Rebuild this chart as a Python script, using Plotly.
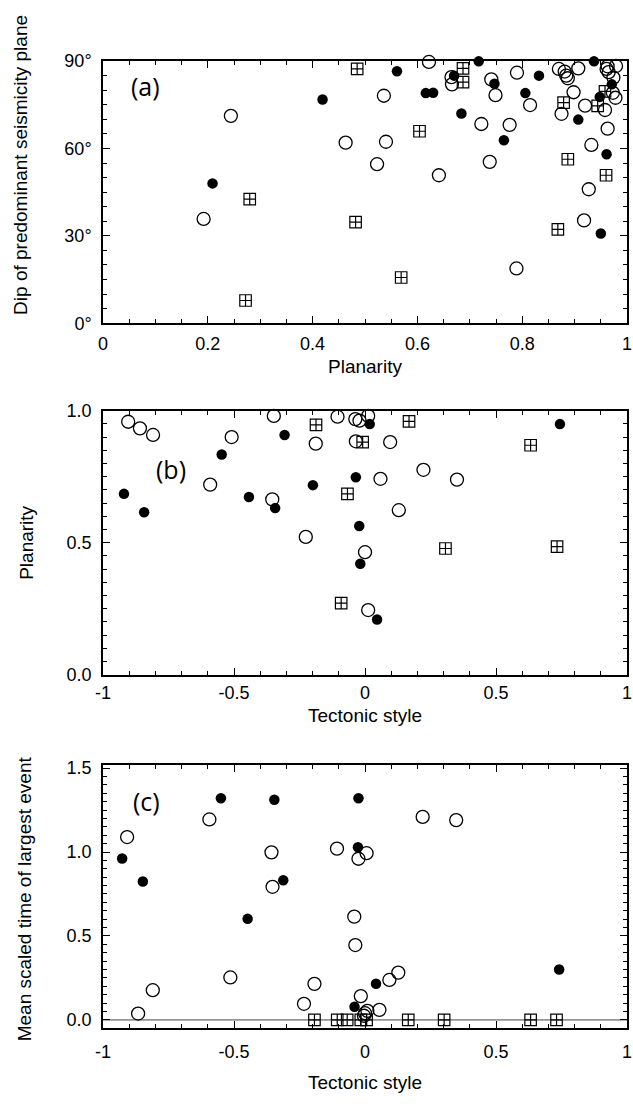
import plotly.graph_objects as go

W, H = 633, 1108

# ---------------- Panel (a): Planarity vs dip ----------------
a_open_planarity = [0.244, 0.463, 0.192, 0.622, 0.665, 0.666, 0.741, 0.749, 0.790, 0.815,
                    0.536, 0.722, 0.776, 0.540, 0.523, 0.738, 0.641, 0.870, 0.881, 0.884,
                    0.887, 0.907, 0.963, 0.961, 0.979, 0.965, 0.974, 0.973, 0.978, 0.958,
                    0.898, 0.920, 0.875, 0.963, 0.932, 0.927, 0.918, 0.789]
a_open_dip = [71.2, 62.0, 35.8, 89.7, 84.5, 82.0, 83.7, 78.3, 86.0, 74.9,
              78.1, 68.4, 68.1, 62.3, 54.6, 55.4, 50.8, 87.3, 86.4, 85.0,
              84.1, 87.5, 88.2, 87.3, 88.3, 86.2, 84.3, 79.1, 77.4, 73.2,
              79.3, 74.7, 71.9, 66.8, 61.2, 46.0, 35.3, 18.8]

a_fill_planarity = [0.419, 0.209, 0.561, 0.670, 0.717, 0.747, 0.832, 0.806, 0.616, 0.630,
                    0.684, 0.765, 0.937, 0.971, 0.948, 0.907, 0.961, 0.950]
a_fill_dip = [76.8, 48.0, 86.5, 85.0, 89.9, 82.2, 85.0, 79.0, 79.0, 79.1,
              72.0, 62.8, 89.9, 82.0, 77.7, 69.9, 58.0, 30.8]

a_sq_planarity = [0.485, 0.280, 0.482, 0.272, 0.687, 0.687, 0.604, 0.958, 0.944, 0.879,
                  0.887, 0.960, 0.868, 0.569]
a_sq_dip = [87.3, 42.6, 34.7, 7.8, 87.5, 82.8, 65.9, 79.6, 74.6, 75.7,
            56.3, 50.8, 32.2, 15.7]

a_xticks = [0, 0.2, 0.4, 0.6, 0.8, 1.0]
a_xticktext = ["0", "0.2", "0.4", "0.6", "0.8", "1"]
a_yticks = [0, 30, 60, 90]
a_yticktext = ["0°", "30°", "60°", "90°"]

# ---------------- Panel (b): Tectonic style vs planarity ----------------
b_open_style = [-0.904, -0.859, -0.809, -0.348, -0.509, -0.188, -0.105, -0.037, -0.021, 0.012,
                -0.035, -0.591, -0.354, -0.226, 0.096, 0.223, 0.059, 0.351, 0.129, 0.000,
                0.012]
b_open_planarity = [0.958, 0.933, 0.908, 0.980, 0.900, 0.875, 0.977, 0.968, 0.962, 0.980,
                    0.884, 0.720, 0.664, 0.522, 0.881, 0.776, 0.742, 0.739, 0.623, 0.464,
                    0.245]

b_fill_style = [-0.307, 0.018, -0.547, -0.920, -0.843, -0.443, -0.343, -0.199, -0.035, -0.022,
                0.744, -0.018, 0.046]
b_fill_planarity = [0.908, 0.949, 0.834, 0.685, 0.615, 0.673, 0.631, 0.718, 0.748, 0.563,
                    0.949, 0.420, 0.209]

b_sq_style = [-0.187, -0.009, -0.067, 0.168, 0.632, 0.307, 0.733, -0.091]
b_sq_planarity = [0.946, 0.881, 0.685, 0.959, 0.869, 0.478, 0.485, 0.271]

style_ticks = [-1, -0.5, 0, 0.5, 1]
style_ticktext = ["-1", "-0.5", "0", "0.5", "1"]
b_yticks = [0, 0.5, 1.0]
b_yticktext = ["0.0", "0.5", "1.0"]

# ---------------- Panel (c): Tectonic style vs mean scaled time ----------------
c_open_style = [-0.594, -0.908, -0.357, -0.353, -0.107, -0.025, 0.006, 0.220, 0.348, -0.041,
                -0.037, -0.514, -0.810, -0.866, -0.193, -0.233, -0.016, 0.000, 0.127, 0.093,
                0.055, 0.009, -0.004]
c_open_time = [1.194, 1.089, 0.998, 0.793, 1.020, 0.960, 0.993, 1.209, 1.190, 0.615,
               0.446, 0.253, 0.177, 0.038, 0.215, 0.096, 0.142, 0.040, 0.282, 0.238,
               0.060, 0.054, 0.025]

c_fill_style = [-0.550, -0.346, -0.025, -0.927, -0.848, -0.312, -0.027, -0.448, -0.040, 0.042,
                0.741]
c_fill_time = [1.320, 1.311, 1.320, 0.961, 0.824, 0.832, 1.028, 0.602, 0.079, 0.215,
               0.300]

c_sq_style = [-0.193, -0.106, -0.068, -0.016, 0.006, 0.165, 0.302, 0.632, 0.731]
c_sq_time = [0, 0, 0, 0, 0, 0, 0, 0, 0]

c_yticks = [0, 0.5, 1.0, 1.5]
c_yticktext = ["0.0", "0.5", "1.0", "1.5"]

# ---------------- Figure ----------------
fig = go.Figure()

open_m = dict(symbol="circle-open", size=13, color="black", line=dict(width=1.3, color="black"))
fill_m = dict(symbol="circle", size=10.5, color="black", line=dict(width=0))
sq_m = dict(symbol="square-cross-open", size=11.5, color="black", line=dict(width=1.2, color="black"))

def add(x, y, marker, xa, ya):
    fig.add_trace(go.Scatter(x=x, y=y, mode="markers", marker=marker, xaxis=xa, yaxis=ya,
                             cliponaxis=False, showlegend=False, hoverinfo="skip"))

add(a_open_planarity, a_open_dip, open_m, "x", "y")
add(a_fill_planarity, a_fill_dip, fill_m, "x", "y")
add(a_sq_planarity, a_sq_dip, sq_m, "x", "y")

add(b_open_style, b_open_planarity, open_m, "x2", "y2")
add(b_fill_style, b_fill_planarity, fill_m, "x2", "y2")
add(b_sq_style, b_sq_planarity, sq_m, "x2", "y2")

add(c_open_style, c_open_time, open_m, "x3", "y3")
add(c_fill_style, c_fill_time, fill_m, "x3", "y3")
add(c_sq_style, c_sq_time, sq_m, "x3", "y3")

# empty traces so the mirrored tick axes (top/right) are drawn
for xa, ya in [("x4", "y4"), ("x5", "y5"), ("x6", "y6")]:
    fig.add_trace(go.Scatter(x=[], y=[], mode="markers", xaxis=xa, yaxis=ya,
                             showlegend=False, hoverinfo="skip"))

TF = dict(family="Liberation Sans, Arial, sans-serif", size=18, color="black")

def ax(domain, rng, tickvals, ticktext, minor_dtick, anchor, side=None, overlay=None, standoff=0):
    d = dict(domain=domain, range=rng, tickmode="array", tickvals=tickvals, ticktext=ticktext,
             showline=True, linecolor="black", linewidth=1.6, mirror=True,
             ticks="inside", ticklen=7, tickwidth=1.3, tickcolor="black",
             showgrid=False, zeroline=False, tickfont=TF, anchor=anchor,
             ticklabeloverflow="allow", ticklabelstandoff=standoff,
             minor=dict(tickmode="linear", tick0=0, dtick=minor_dtick, ticks="inside",
                        ticklen=4, tickwidth=1, tickcolor="black", showgrid=False))
    if side is not None:
        d.update(side=side, overlaying=overlay, showticklabels=False, showline=False,
                 mirror=False)
    return d

xd = [97 / W, 632 / W]
def yd(top, bot):
    return [1 - bot / H, 1 - top / H]

ya_dom, yb_dom, yc_dom = yd(52, 319), yd(408, 677), yd(769, 1037)
c_range = [-0.0497, 1.5175]

fig.update_layout(
    width=W, height=H, margin=dict(l=0, r=0, t=0, b=0),
    paper_bgcolor="white", plot_bgcolor="white",
    xaxis=ax(xd, [0, 1.0], a_xticks, a_xticktext, 0.05, "y", standoff=3),
    yaxis=ax(ya_dom, [0, 90], a_yticks, a_yticktext, 5, "x", standoff=6),
    xaxis2=ax(xd, [-1, 1], style_ticks, style_ticktext, 0.1, "y2", standoff=1),
    yaxis2=ax(yb_dom, [0, 1.0], b_yticks, b_yticktext, 0.05, "x2", standoff=6),
    xaxis3=ax(xd, [-1, 1], style_ticks, style_ticktext, 0.1, "y3", standoff=6),
    yaxis3=ax(yc_dom, c_range, c_yticks, c_yticktext, 0.05, "x3", standoff=6),
    # opposite-side tick axes
    xaxis4=ax(xd, [0, 1.0], a_xticks, a_xticktext, 0.05, "y", side="top", overlay="x"),
    yaxis4=ax(ya_dom, [0, 90], a_yticks, a_yticktext, 5, "x", side="right", overlay="y"),
    xaxis5=ax(xd, [-1, 1], style_ticks, style_ticktext, 0.1, "y2", side="top", overlay="x2"),
    yaxis5=ax(yb_dom, [0, 1.0], b_yticks, b_yticktext, 0.05, "x2", side="right", overlay="y2"),
    xaxis6=ax(xd, [-1, 1], style_ticks, style_ticktext, 0.1, "y3", side="top", overlay="x3"),
    yaxis6=ax(yc_dom, c_range, c_yticks, c_yticktext, 0.05, "x3", side="right", overlay="y3"),
)

fig.add_shape(type="line", xref="x3", yref="y3", x0=-1, x1=1, y0=0, y1=0,
              line=dict(color="#444444", width=1), layer="below")

TT = dict(family="Liberation Sans, Arial, sans-serif", size=19, color="black")
PL = dict(family="Open Sans, Liberation Sans, sans-serif", size=25, color="black")

def ann(text, px, py, font, angle=0):
    fig.add_annotation(text=text, x=px / W, y=1 - py / H, xref="paper", yref="paper",
                       showarrow=False, font=font, textangle=angle,
                       xanchor="center", yanchor="middle")

ann("Dip of predominant seismicity plane", 12, 158, TT, -90)
ann("Planarity", 364, 363, TT)
ann("Planarity", 19, 543, TT, -90)
ann("Tectonic style", 364, 718, TT)
ann("Mean scaled time of largest event", 17, 905, TT, -90)
ann("Tectonic style", 364, 1092, TT)

ann("(a)", 140, 77, PL)
ann("(b)", 166, 467, PL)
ann("(c)", 141, 806, PL)

fig.write_html("out.html")
